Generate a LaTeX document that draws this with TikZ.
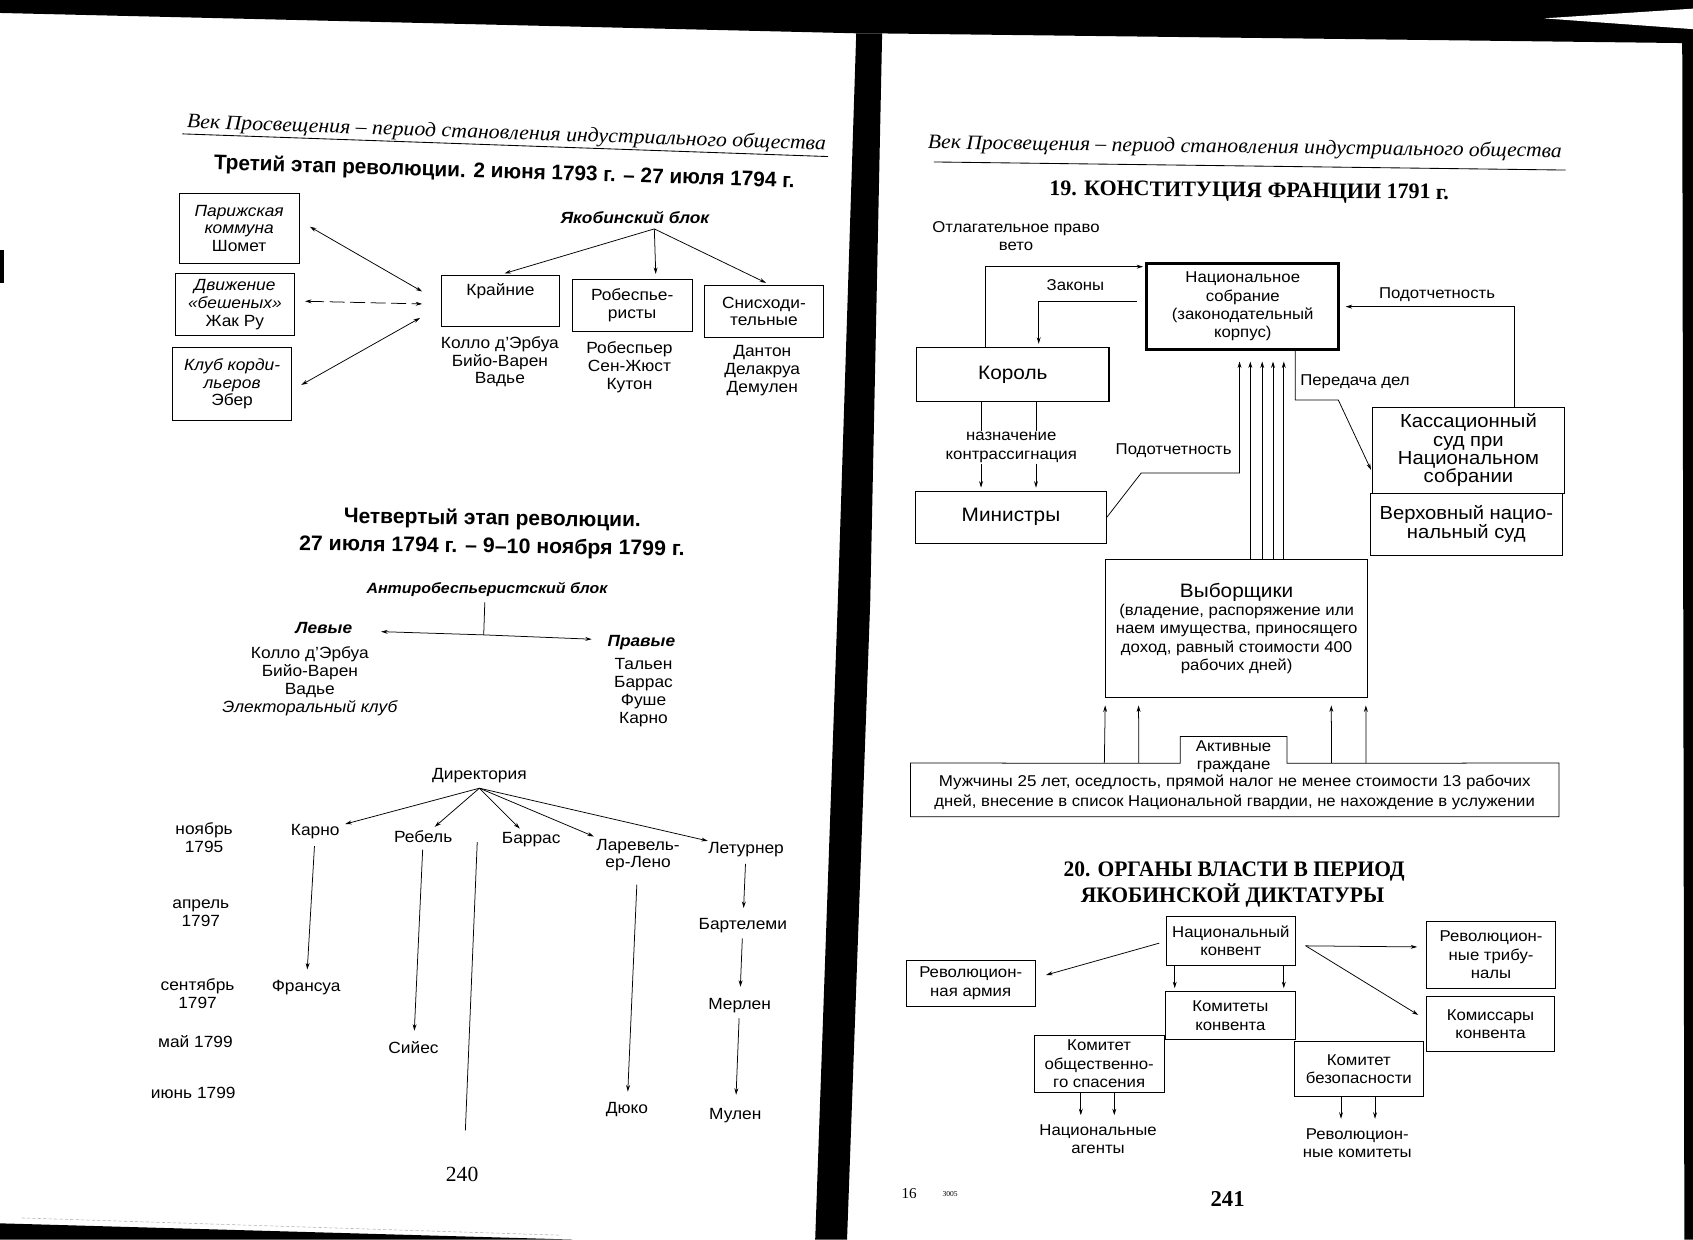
\documentclass[tikz,border=0pt]{standalone}
\usepackage{fontspec}
\usepackage{graphicx}
\setmainfont{Liberation Sans}
\newfontfamily\wide{Liberation Sans}[FakeStretch=1.07]
\newfontfamily\ser{Liberation Serif}
\usetikzlibrary{arrows.meta,calc}
\newcommand\fitw[2]{\resizebox{#1}{\height}{#2}}
\newcommand\dgf{\wide\fontsize{15}{16.5}\selectfont}
\newcommand\rgf{\wide\fontsize{14.5}{17}\selectfont}
\begin{document}
\begin{tikzpicture}[x=1pt,y=-1pt,line width=0.7pt,
  txt/.style={inner sep=0pt,align=center,font=\dgf},
  rtxt/.style={inner sep=0pt,align=center,font=\rgf},
  box/.style={draw,inner sep=0pt,align=center,font=\dgf},
  rbox/.style={draw,inner sep=0pt,align=center,font=\rgf},
  arr/.style={-{Stealth[length=6pt,width=3.6pt]}},
  dbl/.style={{Stealth[length=6pt,width=3.6pt]}-{Stealth[length=6pt,width=3.6pt]}},
  bi/.style={inner sep=0pt,font=\dgf\bfseries\itshape}]
\fill[white] (0,0) rectangle (1568,1148);
\useasboundingbox (0,0) rectangle (1568,1148);
% scan edges
\fill[black] (0,0) -- (1568,0) -- (1568,40) -- (820,31) -- (800,31) -- (0,12) -- cycle;
\fill[white] (1430,17) -- (1568,8) -- (1568,27) -- cycle;
\fill[black] (793,31) -- (817,31) -- (806,556) -- (784.5,1148) -- (755,1148) -- (776,556) -- cycle;
\fill[black] (1558,38) -- (1568,38) -- (1568,1148) -- (1560,1148) -- cycle;
\fill[black] (0,232) rectangle (4,262);
\fill[black] (0,1133) -- (530,1148) -- (0,1148) -- cycle;
\draw[gray!60,line width=0.5pt,dash pattern=on 3pt off 2pt] (20,1128) -- (520,1144);

% ===== LEFT PAGE =====
\node[inner sep=0pt,rotate=-2] (hdrL) at (469,124) {\fitw{592pt}{\ser\itshape\fontsize{19}{19}\selectfont Век Просвещения – период становления индустриального общества}};
\draw[line width=0.8pt] (169,124) -- (767,145);
\node[inner sep=0pt,rotate=-1.8] (titleL) at (467,160) {\fitw{538pt}{\bfseries\fontsize{19.5}{19.5}\selectfont Третий этап революции. 2 июня 1793~г. – 27 июля 1794~г.}};

\node[box,minimum width=111,minimum height=65] (paris) at (221.5,211.5) {\itshape Парижская\\\itshape коммуна\\\upshape Шомет};
\node[box,minimum width=111,minimum height=57] (besh) at (217.5,282) {\itshape Движение\\\itshape «бешеных»\\\upshape Жак Ру};
\node[box,minimum width=110,minimum height=67] (kord) at (215,355.5) {\itshape Клуб корди-\\\itshape льеров\\\upshape Эбер};
\coordinate (pA) at (287,210);
\coordinate (hA) at (391,270);
\coordinate (bA) at (282.5,279);
\coordinate (hB) at (391,281.5);
\coordinate (kA) at (279,356.5);
\coordinate (hC) at (389,294.5);
\draw[dbl] (pA) -- (hA);
\draw[dbl,dash pattern=on 14pt off 5pt] (bA) -- (hB);
\draw[dbl] (kA) -- (hC);

\node[bi] (jac) at (588,201) {Якобинский блок};
\coordinate (jhub) at (606,212);
\node[draw,minimum width=110,minimum height=48] (krai) at (463.5,278.7) {};
\node[txt] (kraiT) at (463.5,270) {Крайние};
\node[box,minimum width=111,minimum height=48] (robe) at (585.5,283) {Робеспье-\\ристы};
\node[box,minimum width=111,minimum height=48] (snis) at (707.5,288.5) {Снисходи-\\тельные};
\draw[arr,shorten >=4pt] (jhub) -- (krai.north);
\draw[arr,shorten >=5pt] (jhub) -- ($(robe.north)+(22,0)$);
\draw[arr,shorten >=5pt] (jhub) -- ($(snis.north)+(6.5,0)$);
\node[txt] (kraiN) at (463,335) {Колло д’Эрбуа\\Бийо-Варен\\Вадье};
\node[txt] (robeN) at (583,340) {Робеспьер\\Сен-Жюст\\Кутон};
\node[txt] (snisN) at (706,343.5) {Дантон\\Делакруа\\Демулен};

\node[inner sep=0pt,rotate=-0.8] (t4a) at (456,481) {\fitw{275pt}{\bfseries\fontsize{19.5}{19.5}\selectfont Четвертый этап революции.}};
\node[inner sep=0pt,rotate=-0.8] (t4b) at (455.6,507) {\fitw{357pt}{\bfseries\fontsize{19.5}{19.5}\selectfont 27 июля 1794~г. – 9–10 ноября 1799~г.}};
\node[bi,font=\wide\fontsize{13.8}{16}\selectfont\bfseries\itshape] (anti) at (451,546) {Антиробеспьеристский блок};
\coordinate (antiJ) at (448,588);
\draw (anti.south) ++(-2,5) -- (antiJ);
\coordinate (levA) at (353,585);
\coordinate (pravA) at (548,592);
\draw[arr] (antiJ) -- (levA);
\draw[arr] (antiJ) -- (pravA);
\node[bi] (lev) at (300,582) {Левые};
\node[txt] (levN) at (287,631) {Колло д’Эрбуа\\Бийо-Варен\\Вадье\\\itshape Электоральный клуб};
\node[bi] (prav) at (594,595) {Правые};
\node[txt] (pravN) at (596,641.5) {Тальен\\Баррас\\Фуше\\Карно};

\node[txt] (dir) at (444,718) {Директория};
\coordinate (dhub) at (444,730);
\node[txt] (karno) at (292,770.6) {Карно};
\node[txt] (rebel) at (392,775) {Ребель};
\node[txt] (barras) at (492,778) {Баррас};
\node[txt] (larev) at (591,792) {Ларевель-\\ер-Лено};
\node[txt] (letur) at (691,787) {Летурнер};
\foreach \n in {karno,rebel,barras,larev,letur} \draw[arr,shorten >=5pt] (dhub) -- (\n);
\node[txt] (d1) at (189,775.5) {ноябрь\\1795};
\node[txt] (d2) at (186,846) {апрель\\1797};
\node[txt] (d3) at (183,920) {сентябрь\\1797};
\node[txt] (d4) at (181,965) {май 1799};
\node[txt] (d5) at (179,1012.6) {июнь 1799};
\node[txt] (fran) at (283.6,915) {Франсуа};
\node[txt] (siyes) at (383,970.6) {Сийес};
\node[txt] (duko) at (580.7,1028) {Дюко};
\node[txt] (bart) at (688,857) {Бартелеми};
\node[txt] (merl) at (685,931) {Мерлен};
\node[txt] (mulen) at (681,1033) {Мулен};
\draw[arr,shorten <=6pt,shorten >=10pt] (karno) -- (fran);
\draw[arr,shorten <=6pt,shorten >=10pt] (rebel) -- (siyes);
\draw[arr,shorten <=12pt,shorten >=10pt] (larev) -- (duko);
\draw[arr,shorten <=6pt,shorten >=9pt] (letur) -- (bart);
\draw[arr,shorten <=5pt,shorten >=10pt] (bart) -- (merl);
\draw[arr,shorten <=5pt,shorten >=12pt] (merl) -- (mulen);
\coordinate (lnA) at (442,780);
\coordinate (lnB) at (431,1047);
\draw (lnA) -- (lnB);
\node[inner sep=0pt] (p240) at (428,1088) {\ser\fontsize{20}{20}\selectfont 240};

% ===== RIGHT PAGE =====
\node[inner sep=0pt,rotate=-0.8] (hdrR) at (1153,137) {\fitw{587pt}{\ser\itshape\fontsize{19}{19}\selectfont Век Просвещения – период становления индустриального общества}};
\draw[line width=0.8pt] (865,150) -- (1450,157.5);
\node[inner sep=0pt,rotate=-0.6] (t19) at (1157,178) {\fitw{370pt}{\ser\bfseries\fontsize{20.5}{20.5}\selectfont 19. КОНСТИТУЦИЯ ФРАНЦИИ 1791~г.}};

\node[rtxt] (veto) at (941,218.5) {Отлагательное право\\вето};
\node[rbox,line width=2.6pt,minimum width=178,minimum height=80] (nas) at (1151,284) {Национальное\\собрание\\(законодательный\\корпус)};
\node[rbox,line width=1.2pt,minimum width=178,minimum height=50,font=\wide\fontsize{18}{20}\selectfont] (king) at (938,347) {Король};
\node[rbox,minimum width=177,minimum height=48,font=\wide\fontsize{18}{18}\selectfont] (mini) at (936.3,479) {Министры};
\node[rbox,minimum width=178,minimum height=80,font=\wide\fontsize{17.5}{17}\selectfont] (kass) at (1360,417) {Кассационный\\суд при\\Национальном\\собрании};
\node[rbox,minimum width=178,minimum height=57,font=\wide\fontsize{17.5}{17.5}\selectfont] (verh) at (1358,485.5) {Верховный нацио-\\нальный суд};
\node[rbox,minimum width=243,minimum height=127] (vyb) at (1145.3,582) {\wide\fontsize{18}{20}\selectfont Выборщики\\\rgf (владение, распоряжение или\\наем имущества, приносящего\\доход, равный стоимости 400\\рабочих дней)};
\node[inner sep=0pt,minimum width=600,minimum height=49] (mens) at (1143.5,731.5) {};
\node[rtxt] (mensT) at (1143.5,734) {\fitw{548pt}{Мужчины 25 лет, оседлость, прямой налог не менее стоимости 13 рабочих}\\[1pt]\fitw{556pt}{дней, внесение в список Национальной гвардии, не нахождение в услужении}};
\draw (mens.north west) -- (1093,707) |- (1192,682) -- (1192,707) -- (mens.north east) -- (mens.south east) -- (mens.south west) -- cycle;
\node[rtxt] (act) at (1142.5,701) {Активные\\граждане};

% veto & laws
\draw[arr,shorten >=2pt] ($(king.north)+(-25,0)$) |- ($(nas.west)+(0,-37)$);
\draw[arr,shorten >=3pt] ($(nas.west)+(-8,-5)$) -| ($(king.north)+(24,0)$);
\node[rtxt] (zak) at (996,264) {Законы};
% accountability (right)
\draw[arr,shorten >=5pt] ($(kass.north)+(43,0)$) |- (nas.east);
\node[rtxt] (podR) at (1331,273) {Подотчетность};
% transfer
\coordinate (pdC) at (1239.5,370.5);
\draw[arr,shorten >=2pt] ($(nas.south)+(48.6,0)$) |- (pdC) -- ($(kass.west)+(0,20)$);
\node[rtxt] (pered) at (1255,353.5) {Передача дел};
% appointment
\coordinate (nz1) at ($(king.south)+(-29.4,0)$);
\coordinate (nz2) at ($(king.south)+(21.5,0)$);
\draw[arr,shorten >=3pt] (nz1) -- (nz1 |- mini.north);
\draw[arr,shorten >=3pt] (nz2) -- (nz2 |- mini.north);
\node[rtxt,fill=white,inner sep=1.5pt] (nazn) at (936.6,414.5) {назначение\\контрассигнация};
% ministers accountability
\coordinate (pl1) at (1057,438);
\coordinate (pl2) at (1148,438);
\draw[arr,shorten >=9.5pt] (mini.east) -- (pl1) -- (pl2) -- (pl2 |- nas.south);
\node[rtxt] (podL) at (1087,417) {Подотчетность};
% electors to assembly
\foreach \a/\b in {12.7/7,23.7/18,33.7/28,43.7/38}
  \draw[arr] ($(vyb.north)+(\a,0)$) -- ($(nas.south)+(\b,9.5)$);
% citizens to electors
\foreach \a/\b in {-120.7/-121.7,-88.8/-90.8,89.7/87.7,121.7/119.7}
  \draw[arr] ($(mens.north)+(\a,0)$) -- ($(vyb.south)+(\b,7.5)$);

% ===== DIAGRAM 20 =====
\node[inner sep=0pt] (t20a) at (1143,807) {\fitw{316pt}{\ser\bfseries\fontsize{20.5}{20.5}\selectfont 20. ОРГАНЫ ВЛАСТИ В ПЕРИОД}};
\node[inner sep=0pt] (t20b) at (1141.5,829) {\fitw{281pt}{\ser\bfseries\fontsize{20.5}{20.5}\selectfont ЯКОБИНСКОЙ ДИКТАТУРЫ}};
\node[rbox,minimum width=120,minimum height=45] (nk) at (1140,871.5) {Национальный\\конвент};
\node[rbox,minimum width=119,minimum height=43.4] (ra) at (899,910.7) {Революцион-\\ная армия};
\node[rbox,minimum width=119,minimum height=61.4] (rt) at (1381,884.3) {Революцион-\\ные трибу-\\налы};
\node[rbox,minimum width=118,minimum height=51] (kom) at (1380.5,948.5) {Комиссары\\конвента};
\node[rbox,minimum width=120.8,minimum height=44.5] (kk) at (1139.5,940.8) {Комитеты\\конвента};
\node[rbox,minimum width=120,minimum height=53.4] (kos) at (1018,985.3) {Комитет\\общественно-\\го спасения};
\node[rbox,minimum width=119,minimum height=51] (kb) at (1258.5,990.3) {Комитет\\безопасности};
\node[rtxt] (na) at (1017,1055) {Национальные\\агенты};
\node[rtxt] (rk) at (1257,1059) {Революцион-\\ные комитеты};
\draw[arr] ($(nk.west)+(-6,2)$) -- ($(ra.east)+(10,-7.7)$);
\draw[arr] ($(nk.east)+(8.7,4.5)$) -- ($(rt.west)+(-8.6,-7.3)$);
\draw[arr] ($(nk.east)+(9,4.5)$) -- ($(kom.west)+(-7.6,-8.5)$);
\draw[arr] ($(nk.south)+(-52,0)$) -- ($(kk.north)+(-51.5,-3)$);
\draw[arr] ($(nk.south)+(49,0)$) -- ($(kk.north)+(49.5,-3)$);
\draw[arr] ($(kos.south)+(-17,0)$) -- ($(kos.south)+(-17,20.5)$);
\draw[arr] ($(kos.south)+(14,0)$) -- ($(kos.south)+(14,20.5)$);
\draw[arr] ($(kb.south)+(-16.5,0)$) -- ($(kb.south)+(-16.5,20)$);
\draw[arr] ($(kb.south)+(15,0)$) -- ($(kb.south)+(15,20)$);

\node[inner sep=0pt] (n16) at (842,1105) {\ser\fontsize{14}{14}\selectfont 16};
\node[inner sep=0pt] (n3005) at (880,1106) {\ser\fontsize{7}{7}\selectfont 3005};
\node[inner sep=0pt] (p241) at (1137,1110) {\ser\bfseries\fontsize{21}{21}\selectfont 241};
\end{tikzpicture}
\end{document}
